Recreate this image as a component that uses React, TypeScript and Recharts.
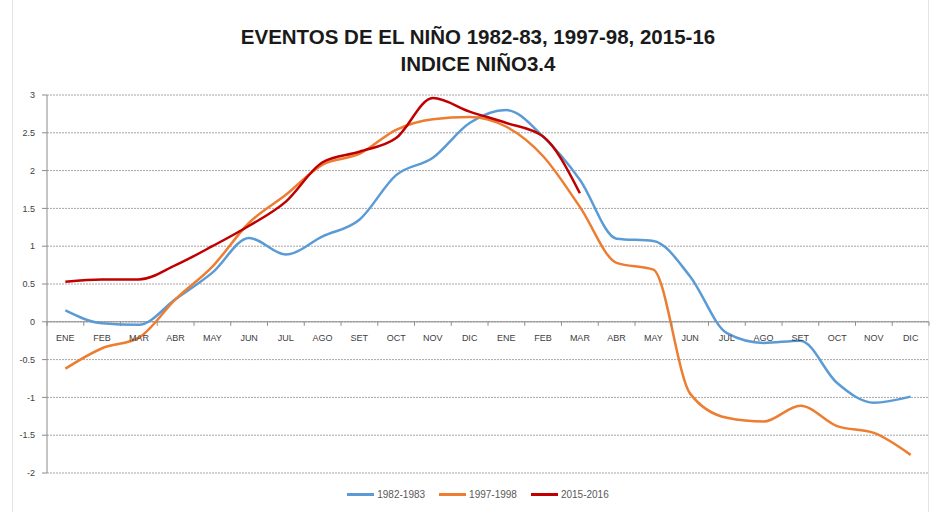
import React from 'react';
import { LineChart, Line, XAxis, YAxis, CartesianGrid, ReferenceLine, Legend } from 'recharts';

const months = ['ENE','FEB','MAR','ABR','MAY','JUN','JUL','AGO','SET','OCT','NOV','DIC','ENE','FEB','MAR','ABR','MAY','JUN','JUL','AGO','SET','OCT','NOV','DIC'];
const s1982 = [0.15,-0.02,-0.04,0.3,0.65,1.11,0.89,1.13,1.35,1.94,2.17,2.63,2.8,2.45,1.88,1.1,1.07,0.6,-0.15,-0.28,-0.25,-0.81,-1.07,-0.99];
const s1997 = [-0.62,-0.35,-0.21,0.3,0.73,1.31,1.68,2.08,2.22,2.54,2.68,2.71,2.58,2.19,1.52,0.78,0.69,-0.95,-1.27,-1.32,-1.11,-1.38,-1.47,-1.76];
const s2015 = [0.53,0.56,0.56,0.75,1.0,1.27,1.59,2.11,2.25,2.43,2.96,2.78,2.63,2.45,1.7];
const yTicks = [-2,-1.5,-1,-0.5,0,0.5,1,1.5,2,2.5,3];
const seriesNames = ['1982-1983','1997-1998','2015-2016'];
const seriesColors = ['#5B9BD5','#ED7D31','#C00000'];

const data = months.map((m, i) => ({
  idx: i,
  a: s1982[i],
  b: s1997[i],
  c: i < s2015.length ? s2015[i] : null,
}));

const W = 930, H = 512;
const PLOT_LEFT = 47, PLOT_RIGHT = 929, PLOT_TOP = 95, PLOT_BOTTOM = 473;
const Y_MIN = -2, Y_MAX = 3;
const ZERO_Y = PLOT_TOP + ((Y_MAX - 0) / (Y_MAX - Y_MIN)) * (PLOT_BOTTOM - PLOT_TOP);
const BAND = (PLOT_RIGHT - PLOT_LEFT) / months.length;
const FONT = '"Liberation Sans", Arial, sans-serif';

const XTick = (props: any) => {
  const { x, payload, index } = props;
  const i = payload.value as number;
  return (
    <g>
      <line x1={x - BAND / 2} x2={x - BAND / 2} y1={ZERO_Y} y2={ZERO_Y + 4} stroke="#8c8c8c" strokeWidth={1} />
      {(index === months.length - 1 || i === months.length - 1) && (
        <line x1={x + BAND / 2} x2={x + BAND / 2} y1={ZERO_Y} y2={ZERO_Y + 4} stroke="#8c8c8c" strokeWidth={1} />
      )}
      <text x={x} y={ZERO_Y + 19} textAnchor="middle" fontSize={9} fontFamily={FONT} fill="#404040">
        {months[i]}
      </text>
    </g>
  );
};

const LegendContent = () => (
  <div style={{ display: 'flex', justifyContent: 'center', alignItems: 'center', fontFamily: FONT, fontSize: 10, color: '#595959' }}>
    {seriesNames.map((n, k) => (
      <div key={n} style={{ display: 'flex', alignItems: 'center', marginRight: k < 2 ? 14 : 0 }}>
        <div style={{ width: 27, height: 3, background: seriesColors[k], marginRight: 3 }} />
        <span>{n}</span>
      </div>
    ))}
  </div>
);

export default function App() {
  return (
    <div style={{ position: 'absolute', left: 0, top: 0, width: W, height: H, background: '#fff', overflow: 'hidden' }}>
      <div style={{ position: 'absolute', left: 12, top: 0, width: 1, height: H, background: '#e4e4e4' }} />
      <div style={{ position: 'absolute', left: 928, top: 0, width: 1, height: H, background: '#e4e4e4' }} />
      <div style={{ position: 'absolute', left: 0, top: 23, width: 956, textAlign: 'center', fontFamily: FONT, fontWeight: 'bold', fontSize: 20.5, lineHeight: '27px', color: '#1a1a1a' }}>
        <div>EVENTOS DE EL NIÑO 1982-83, 1997-98, 2015-16</div>
        <div>INDICE NIÑO3.4</div>
      </div>
      <LineChart
        width={W}
        height={H}
        data={data}
        margin={{ top: PLOT_TOP, right: W - PLOT_RIGHT, bottom: H - PLOT_BOTTOM - 1, left: 0 }}
      >
        <CartesianGrid horizontal vertical={false} stroke="#a6a6a6" strokeDasharray="2 1" />
        <XAxis
          dataKey="idx"
          type="category"
          height={1}
          axisLine={false}
          tickLine={false}
          interval={0}
          padding={{ left: BAND / 2, right: BAND / 2 }}
          tick={<XTick />}
        />
        <YAxis
          domain={[Y_MIN, Y_MAX]}
          ticks={yTicks}
          width={PLOT_LEFT}
          interval={0}
          tickSize={5}
          tickMargin={7}
          axisLine={{ stroke: '#8c8c8c' }}
          tickLine={{ stroke: '#8c8c8c' }}
          tick={{ fontSize: 9, fill: '#404040', fontFamily: FONT }}
        />
        <ReferenceLine y={0} stroke="#8c8c8c" strokeWidth={1} />
        <Line type="monotone" dataKey="a" name={seriesNames[0]} stroke={seriesColors[0]} strokeWidth={2.5} dot={false} isAnimationActive={false} />
        <Line type="monotone" dataKey="b" name={seriesNames[1]} stroke={seriesColors[1]} strokeWidth={2.5} dot={false} isAnimationActive={false} />
        <Line type="monotone" dataKey="c" name={seriesNames[2]} stroke={seriesColors[2]} strokeWidth={2.5} dot={false} isAnimationActive={false} />
        <Legend
          layout="horizontal"
          verticalAlign="middle"
          align="center"
          wrapperStyle={{ top: 489, left: 0, width: 956 }}
          content={<LegendContent />}
        />
      </LineChart>
    </div>
  );
}
